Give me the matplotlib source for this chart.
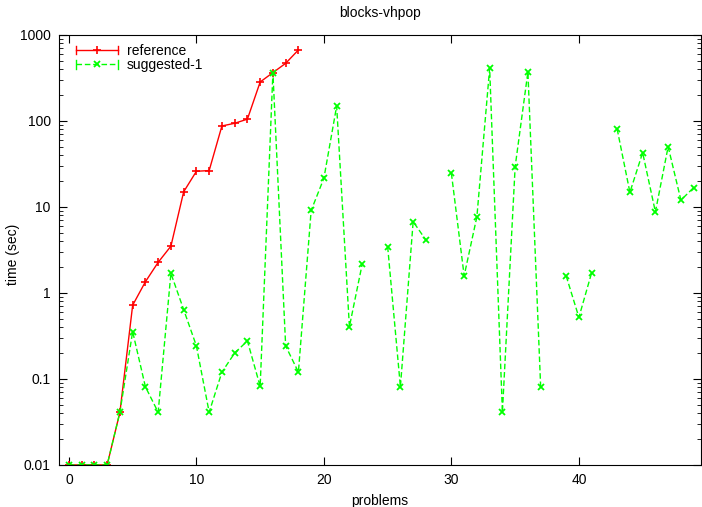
import numpy as np
import matplotlib
matplotlib.use("Agg")
import matplotlib.pyplot as plt
from matplotlib.lines import Line2D
from matplotlib.legend_handler import HandlerLine2D
from matplotlib.ticker import LogLocator, FixedLocator, NullFormatter

plt.rcParams['font.family'] = ['Liberation Sans', 'DejaVu Sans']

# problems 0..18 for the reference planner
ref_x = list(range(19))
ref_t = [0.01, 0.01, 0.01, 0.01, 0.041, 0.72, 1.35, 2.27, 3.5, 15,
         26, 26.5, 87.5, 94, 105, 284, 365, 468, 670]

# problems 0..49 for suggested-1 (nan = no result)
sug_x = list(range(50))
sug_t = [0.01, 0.01, 0.01, 0.01, 0.041, 0.355, 0.081, 0.041, 1.69, 0.64,
         0.242, 0.041, 0.12, 0.2, 0.277, 0.082, 365, 0.242, 0.12, 9.1,
         21.6, 149, 0.405, 2.15, np.nan, 3.46, 0.081, 6.75, 4.13, np.nan,
         24.6, 1.58, 7.72, 410, 0.041, 29.4, 372, 0.081, np.nan, 1.58,
         0.52, 1.72, np.nan, 80.7, 14.8, 42.8, 8.75, 50.3, 12, 16.8]


# gnuplot-like key sample: line with little end bars
class CappedLine(HandlerLine2D):
    def create_artists(self, legend, orig_handle, xdescent, ydescent,
                       width, height, fontsize, trans):
        arts = super().create_artists(legend, orig_handle, xdescent, ydescent,
                                      width, height, fontsize, trans)
        y = height / 2 - ydescent
        h = 0.3 * fontsize
        for xc in (-xdescent, width - xdescent):
            cap = Line2D([xc, xc], [y - h, y + h], color=orig_handle.get_color(),
                         linewidth=1, transform=trans)
            arts.append(cap)
        return arts


fig = plt.figure(figsize=(7.02, 5.07), dpi=100)
ax = fig.add_axes([0.084, 0.083, 0.915, 0.848])

ax.plot(ref_x, ref_t, color='#ff0000', linewidth=1, marker='+',
        markersize=5.5, markeredgewidth=1.2, label='reference')
ax.plot(sug_x, sug_t, color='#00ff00', linewidth=1, linestyle=(0, (4, 2)),
        marker='x', markersize=4.5, markeredgewidth=1.3, label='suggested-1')

ax.set_yscale('log')
ax.set_ylim(0.01, 1000)
ax.set_xlim(-0.78, 49.6)

ax.xaxis.set_major_locator(FixedLocator([0, 10, 20, 30, 40]))
ax.yaxis.set_minor_locator(LogLocator(base=10, subs=np.arange(2, 10), numticks=10))
ax.yaxis.set_minor_formatter(NullFormatter())
ax.set_yticks([0.01, 0.1, 1, 10, 100, 1000])
ax.set_yticklabels(['0.01', '0.1', '1', '10', '100', '1000'])

ax.tick_params(which='both', direction='in', top=True, right=True, labelsize=10)
ax.tick_params(which='major', length=6, width=0.8, pad=6)
ax.tick_params(which='minor', length=3, width=0.6)

ax.set_title('blocks-vhpop', fontsize=10, pad=13)
ax.set_xlabel('problems', fontsize=10)
ax.xaxis.set_label_coords(0.5, -0.068)
ax.set_ylabel('time (sec)', fontsize=10)
ax.yaxis.set_label_coords(-0.06, 0.49)

ax.legend(loc='upper left', bbox_to_anchor=(0.0265, 0.98), frameon=False,
          fontsize=10, handlelength=3.0, handletextpad=0.65, labelspacing=0.05,
          borderaxespad=0, borderpad=0, handler_map={Line2D: CappedLine()})

fig.savefig('out.png', dpi=100)
